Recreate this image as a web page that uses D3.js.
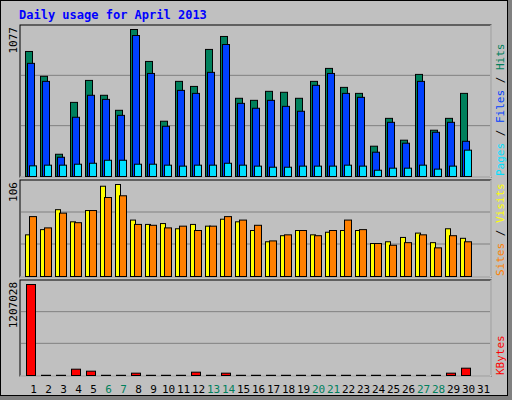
<!DOCTYPE html>
<html>
<head>
<meta charset="UTF-8">
<script src="https://d3js.org/d3.v7.min.js"></script>
<style>
  body { margin: 0; background: #c0c0c0; }
  text { font-family: "DejaVu Sans Mono", monospace; }
</style>
</head>
<body>
<svg id="chart" width="512" height="400"></svg>
<script>
    // daily values
    const days = d3.range(1, 32);
    const weekends = [6, 7, 13, 14, 20, 21, 27, 28];
    const hits  = [916,734,163,543,704,595,485,1077,843,405,697,660,931,1026,573,558,624,617,573,697,792,653,609,222,426,266,748,339,426,609,0];
    const files = [829,697,141,434,595,565,448,1033,755,368,631,609,763,967,536,500,558,514,478,668,755,609,580,178,397,244,697,324,397,258,0];
    const pages = [78,83,83,90,97,119,119,90,90,83,76,83,83,97,83,76,68,68,76,76,76,83,76,46,61,61,83,54,76,193,0];
    const visits = [48,54,77,63,76,104,106,65,60,61,55,60,58,66,63,53,40,47,53,48,51,53,53,38,40,45,50,39,55,44,0];
    const sites  = [69,56,73,62,76,91,93,60,59,56,58,53,58,69,65,59,41,48,53,47,53,65,54,38,36,39,48,33,47,40,0];
    const kbytes = [1207028,3000,3000,83700,57300,3000,3000,30800,3000,3000,3000,44000,3000,30800,3000,3000,3000,3000,3000,3000,3000,3000,3000,3000,3000,3000,3000,3000,30800,96900,0];

    const svg = d3.select("#chart");

    // outer frame
    svg.append("rect").attr("x", 0.5).attr("y", 0.5).attr("width", 507).attr("height", 395)
        .attr("fill", "#c0c0c0").attr("stroke", "#000");
    svg.append("rect").attr("x", 508).attr("y", 0).attr("width", 4).attr("height", 400).attr("fill", "#808080");
    svg.append("rect").attr("x", 0).attr("y", 396).attr("width", 512).attr("height", 4).attr("fill", "#808080");

    svg.append("text").attr("x", 19).attr("y", 19)
        .attr("font-size", 12).attr("font-weight", "bold").attr("fill", "#0000ff")
        .text("Daily usage for April 2013");

    const left = 20, right = 491;
    const x = d3.scaleBand().domain(days).range([left + 3, left + 3 + 15 * 31]).paddingInner(0);

    function panel(top, base, max, label, legend) {
        svg.append("rect").attr("x", left).attr("y", top).attr("width", right - left).attr("height", base - top + 1)
            .attr("fill", "#c0c0c0").attr("stroke", "#000");
        svg.append("line").attr("x1", right).attr("x2", right).attr("y1", top).attr("y2", base + 1).attr("stroke", "#fff");
        svg.append("line").attr("x1", left).attr("x2", right).attr("y1", base + 1).attr("y2", base + 1).attr("stroke", "#fff");
        const y = d3.scaleLinear().domain([0, max]).range([base, top + 4]);
        [1, 2].forEach(k => {
            const gy = base - (base - top) * k / 3;
            svg.append("line").attr("x1", left + 1).attr("x2", right - 1).attr("y1", gy).attr("y2", gy).attr("stroke", "#808080");
        });
        svg.append("text").attr("transform", `translate(17,${top + 2}) rotate(-90)`)
            .attr("text-anchor", "end").attr("font-size", 11).text(label);
        const lg = svg.append("text").attr("transform", `translate(504,${base}) rotate(-90)`).attr("font-size", 11);
        legend.forEach(([t, c]) => lg.append("tspan").attr("fill", c).text(t));
        return y;
    }

    function bars(y, data, color, off, w) {
        svg.append("g").selectAll("rect").data(data).join("rect")
            .attr("x", (d, i) => x(days[i]) + off + 0.5)
            .attr("y", d => y(d) + 0.5)
            .attr("width", w)
            .attr("height", d => Math.max(0, y(0) - y(d)))
            .attr("fill", color).attr("stroke", d => d > 0 ? "#000" : "none");
    }

    const y1 = panel(25, 176, 1077, "1077",
        [["Pages", "#00e0ff"], [" / ", "#000"], ["Files", "#0040ff"], [" / ", "#000"], ["Hits", "#00805c"]]);
    bars(y1, hits, "#00805c", 2, 7);
    bars(y1, files, "#0040ff", 4, 7);
    bars(y1, pages, "#00e0ff", 6, 7);

    const y2 = panel(180, 276, 106, "106",
        [["Sites", "#ff8000"], [" / ", "#000"], ["Visits", "#ffff00"]]);
    bars(y2, visits, "#ffff00", 2, 5);
    bars(y2, sites, "#ff8000", 6, 7);

    const y3 = panel(280, 375, 1207028, "1207028", [["KBytes", "#ff0000"]]);
    bars(y3, kbytes, "#ff0000", 3, 9);

    svg.append("g").selectAll("text").data(days).join("text")
        .attr("x", d => x(d) + x.bandwidth() / 2 + 3)
        .attr("y", 393).attr("text-anchor", "middle").attr("font-size", 11)
        .attr("fill", d => weekends.includes(d) ? "#00805c" : "#000")
        .text(d => d);
</script>
</body>
</html>
